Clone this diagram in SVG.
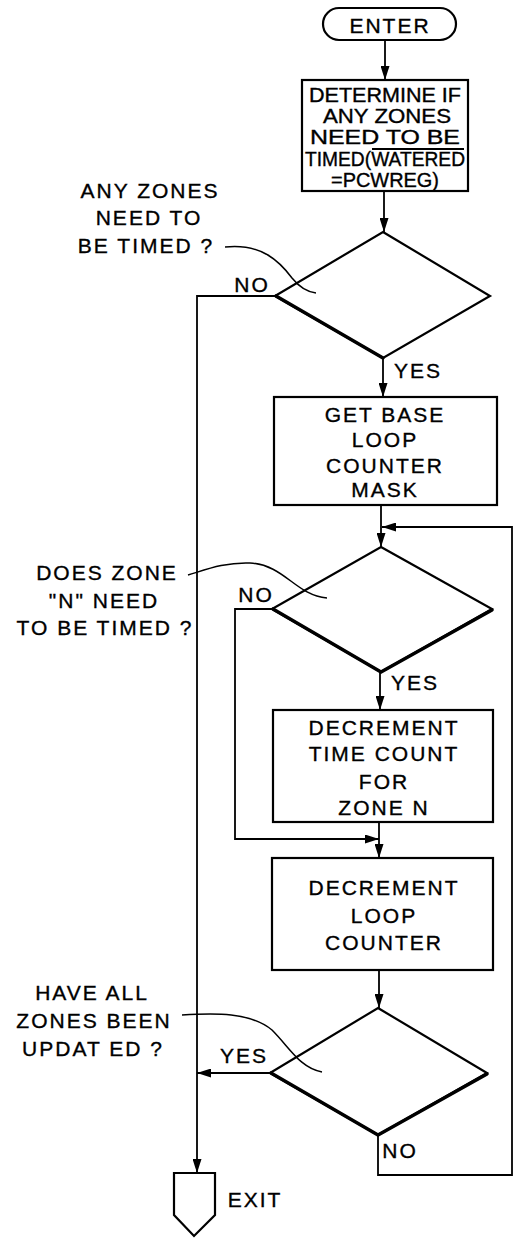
<svg xmlns="http://www.w3.org/2000/svg" width="516" height="1240" viewBox="0 0 516 1240">
<style>
.ln{fill:none;stroke:#000;stroke-width:1.8}
.thk{fill:none;stroke:#000;stroke-width:3.4;stroke-linecap:round}
.shape{fill:#fff;stroke:#000;stroke-width:2.2}
.t,.t1,.lb{font-family:"Liberation Sans",Arial,sans-serif;fill:#000;stroke:#000;stroke-width:0.35;text-anchor:middle}
.t{font-size:21px;letter-spacing:2px}
.t1{font-size:19.5px}
.lb{font-size:21px;letter-spacing:2px}
.lead{fill:none;stroke:#000;stroke-width:1.5}
</style>
<defs>
<marker id="ah" markerWidth="15" markerHeight="9" refX="14" refY="4.5" orient="auto" markerUnits="userSpaceOnUse">
<path d="M0,0 L14,4.5 L0,9 Z" fill="#000"/>
</marker>
</defs>
<rect width="516" height="1240" fill="#fff"/>

<g id="connectors">
<path class="ln" d="M385,40 V80" marker-end="url(#ah)"/>
<path class="ln" d="M384,191 V232" marker-end="url(#ah)"/>
<path class="ln" d="M383,358 V397" marker-end="url(#ah)"/>
<path class="ln" d="M381,505 V547" marker-end="url(#ah)"/>
<path class="ln" d="M380,672 V710" marker-end="url(#ah)"/>
<path class="ln" d="M379,822 V858" marker-end="url(#ah)"/>
<path class="ln" d="M379,970 V1008" marker-end="url(#ah)"/>
<path class="ln" d="M275,296 H197 V1173" marker-end="url(#ah)"/>
<path class="ln" d="M270,1073 H197" marker-end="url(#ah)"/>
<path class="ln" d="M272,609 H235 V839 H379" marker-end="url(#ah)"/>
<path class="ln" d="M378,1135 V1175 H512 V527 H382" marker-end="url(#ah)"/>
<text class="lb" x="252" y="292">NO</text>
<text class="lb" x="418" y="378">YES</text>
<text class="lb" x="256" y="602">NO</text>
<text class="lb" x="415" y="690">YES</text>
<text class="lb" x="244" y="1063">YES</text>
<text class="lb" x="400" y="1158">NO</text>
</g>

<g id="enter">
<rect class="shape" x="323" y="8" width="133" height="32" rx="16"/>
<text class="t" x="390" y="33">ENTER</text>
</g>

<g id="determine">
<rect class="shape" x="302" y="80" width="166" height="111"/>
<text class="t1" x="385" y="102" textLength="152" lengthAdjust="spacingAndGlyphs">DETERMINE IF</text>
<text class="t1" x="387" y="123" textLength="128" lengthAdjust="spacingAndGlyphs">ANY ZONES</text>
<text class="t1" x="385" y="144" textLength="150" lengthAdjust="spacingAndGlyphs">NEED TO BE</text>
<line class="ln" x1="372" y1="149" x2="464" y2="149"/>
<text class="t1" x="385" y="166" textLength="160" lengthAdjust="spacingAndGlyphs">TIMED(WATERED</text>
<text class="t1" x="385" y="187" textLength="108" lengthAdjust="spacingAndGlyphs">=PCWREG)</text>
</g>

<g id="decision1">
<polygon class="shape" points="383,232 490,296 383,358 275,296"/>
<path class="thk" d="M276,296 L383,358"/>
</g>
<g id="label1">
<text class="lb" x="150" y="198">ANY ZONES</text>
<text class="lb" x="149" y="225">NEED TO</text>
<text class="lb" x="146" y="253">BE TIMED ?</text>
<path class="lead" d="M225,247 C262,243 280,262 292,278 C300,288 308,292 316,293"/>
</g>

<g id="getbase">
<rect class="shape" x="274" y="397" width="223" height="108"/>
<text class="t" x="385" y="422">GET  BASE</text>
<text class="t" x="385" y="447">LOOP</text>
<text class="t" x="385" y="473">COUNTER</text>
<text class="t" x="385" y="497">MASK</text>
</g>

<g id="decision2">
<polygon class="shape" points="381,547 492,609 381,672 272,609"/>
<path class="thk" d="M273,609 L381,672 L492,610"/>
</g>
<g id="label2">
<text class="lb" x="107" y="580">DOES ZONE</text>
<text class="lb" x="104" y="608">"N" NEED</text>
<text class="lb" x="105" y="635">TO BE TIMED ?</text>
<path class="lead" d="M188,575 C205,570 225,562 250,563 C285,565 295,595 327,598"/>
</g>

<g id="decrement-time">
<rect class="shape" x="273" y="710" width="220" height="112"/>
<text class="t" x="384" y="735">DECREMENT</text>
<text class="t" x="384" y="761">TIME COUNT</text>
<text class="t" x="384" y="789">FOR</text>
<text class="t" x="384" y="815">ZONE  N</text>
</g>

<g id="decrement-loop">
<rect class="shape" x="272" y="858" width="221" height="112"/>
<text class="t" x="384" y="895">DECREMENT</text>
<text class="t" x="384" y="923">LOOP</text>
<text class="t" x="384" y="950">COUNTER</text>
</g>

<g id="decision3">
<polygon class="shape" points="378,1008 487,1073 378,1135 270,1073"/>
<path class="thk" d="M271,1073 L378,1135 L487,1074"/>
</g>
<g id="label3">
<text class="lb" x="92" y="1000">HAVE ALL</text>
<text class="lb" x="94" y="1028">ZONES BEEN</text>
<text class="lb" x="93" y="1056">UPDAT ED ?</text>
<path class="lead" d="M182,1015 C215,1013 250,1012 272,1030 C290,1048 300,1068 322,1072"/>
</g>

<g id="exit">
<path class="shape" d="M174,1173 H215 V1215 L194,1236 L174,1215 Z"/>
<text class="lb" x="255" y="1207">EXIT</text>
</g>
</svg>
